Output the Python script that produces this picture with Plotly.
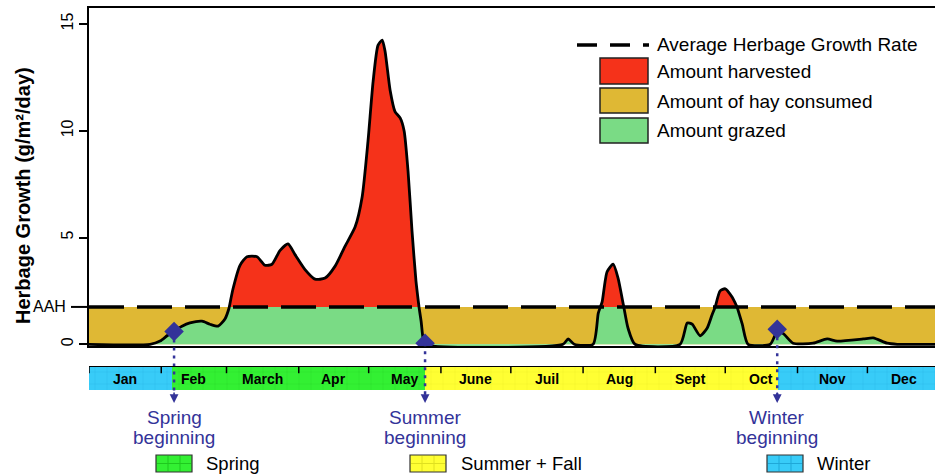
import plotly.graph_objects as go
import numpy as np

# ---------------- data ----------------
AAH = 1.75
days = [0, 26.2, 30.5, 33.5, 36.1, 39.9, 43.3, 48.5, 51.9, 55.4, 58.4, 60.1, 61.8, 64.8, 67.8,
        72.1, 75.5, 78.5, 82.0, 85.4, 88.4, 92.7, 97.0, 101.3, 105.6, 109.9, 114.2, 117.2,
        119.7, 121.9, 124.0, 125.8, 127.0, 129.2, 131.3, 133.5, 135.2, 136.9, 138.6, 140.3,
        141.6, 142.5, 143.3, 144.2, 203.4, 205.6, 208.2, 216.3, 218.5, 220.2, 222.3, 224.9,
        227.0, 229.2, 231.3, 234.3, 253.6, 256.7, 258.8, 262.2, 265.2, 267.4, 268.7, 270.8,
        273.0, 276.0, 278.1, 280.3, 282.8, 292.3, 295.3, 297.9, 302.1, 310.7, 316.7, 321.0,
        332.2, 336.5, 342.5, 346.8, 363]
growth = [0, 0, 0.15, 0.4, 0.6, 0.85, 1.0, 1.08, 0.94, 0.85, 1.2, 1.7, 2.6, 3.7, 4.1,
          4.1, 3.7, 3.75, 4.4, 4.7, 4.2, 3.5, 3.05, 3.1, 3.66, 4.6, 5.5, 6.9,
          9.5, 12.3, 14.0, 14.25, 13.75, 11.9, 10.9, 10.6, 10.0, 8.1, 5.3, 2.96,
          1.74, 1.08, 0.3, 0, 0, 0.25, 0, 0, 1.45, 2.0, 3.4, 3.75,
          3.1, 1.9, 0.75, 0, 0, 1.0, 0.94, 0.4, 0.75, 1.4, 1.74, 2.5,
          2.6, 2.2, 1.74, 0.94, 0, 0, 0.6, 0.5, 0.05, 0.05, 0.25, 0.15,
          0.25, 0.3, 0.05, 0, 0]
months = ["Jan", "Feb", "March", "Apr", "May", "June", "Juil", "Aug", "Sept", "Oct", "Nov", "Dec"]
month_starts = [0, 31, 59, 90, 120, 151, 181, 212, 243, 273, 304, 334]
year_end = 363
season_bounds = [0, 35.6, 144.2, 295.5, 363]
season_names = ["Winter", "Spring", "Summer + Fall", "Winter"]
milestone_days = [36.5, 144.2, 295.3]
milestone_vals = [0.6, 0.05, 0.7]
milestone_labels = [("Spring", "beginning"), ("Summer", "beginning"), ("Winter", "beginning")]
legend_labels = ["Average Herbage Growth Rate", "Amount harvested", "Amount of hay consumed", "Amount grazed"]
y_ticks = [0, 5, 10, 15]

# ---------------- styles ----------------
RED = "#F5321A"
GOLD = "#DFB834"
GREEN = "#7ADB85"
NAVY = "#333399"
SEASON_COL = {"Winter": ("#38CCF8", "#1FA8D8"), "Spring": ("#33F033", "#1FC81F"),
              "Summer + Fall": ("#FFFF33", "#E0E020")}
FONT = "Liberation Sans, Arial, sans-serif"
SHAPE = dict(shape="spline", smoothing=0.6)

W, H = 935, 475
L, R, T, B = 89, 0, 8, 85
PW, PH = W - L - R, H - T - B


def X(px):
    return (px - L) / PW


def Y(py):
    return (H - B - py) / PH


main_dom = [Y(346), 1.0]
band_dom = [0.0, Y(366)]
yr = [-0.08, 15.75]


def yv2paper(v):
    return main_dom[0] + (v - yr[0]) / (yr[1] - yr[0]) * (main_dom[1] - main_dom[0])


# insert AAH crossings
xs, ys = [days[0]], [growth[0]]
for i in range(1, len(days)):
    x0, y0, x1, y1 = days[i - 1], growth[i - 1], days[i], growth[i]
    if (y0 - AAH) * (y1 - AAH) < 0:
        t = (AAH - y0) / (y1 - y0)
        xs.append(x0 + t * (x1 - x0))
        ys.append(AAH)
    xs.append(x1)
    ys.append(y1)
ys = np.array(ys)
low = np.minimum(ys, AAH)
high = np.maximum(ys, AAH)

fig = go.Figure()
fig.add_trace(go.Scatter(x=[0, year_end], y=[AAH, AAH], mode="lines", line=dict(width=0),
                         fill="tozeroy", fillcolor=GOLD, hoverinfo="skip"))
fig.add_trace(go.Scatter(x=xs, y=low, mode="lines", line=dict(width=0, **SHAPE),
                         fill="tozeroy", fillcolor=GREEN, hoverinfo="skip"))
fig.add_trace(go.Scatter(x=xs, y=[AAH] * len(xs), mode="lines", line=dict(width=0), hoverinfo="skip"))
fig.add_trace(go.Scatter(x=xs, y=high, mode="lines", line=dict(width=0, **SHAPE),
                         fill="tonexty", fillcolor=RED, hoverinfo="skip"))
fig.add_trace(go.Scatter(x=xs, y=ys, mode="lines", line=dict(color="black", width=2.8, **SHAPE)))
fig.add_trace(go.Scatter(x=[0, year_end], y=[AAH, AAH], mode="lines",
                         line=dict(color="black", width=3.5, dash="35px,13px")))

# season band
for i, name in enumerate(season_names):
    a, b = season_bounds[i], season_bounds[i + 1]
    bg, fg = SEASON_COL[name]
    fig.add_trace(go.Bar(x=[(a + b) / 2], y=[1], base=0, width=[b - a], xaxis="x", yaxis="y2",
                         marker=dict(color=bg, line=dict(width=0),
                                     pattern=dict(shape="+", fgcolor=fg, size=12, solidity=0.08,
                                                  fillmode="overlay")),
                         hoverinfo="skip"))

shapes = []
annotations = []

# dotted season lines + arrows + labels
for d, v, (l1, l2) in zip(milestone_days, milestone_vals, milestone_labels):
    shapes.append(dict(type="line", xref="x", yref="paper", x0=d, x1=d, y0=yv2paper(v), y1=Y(396),
                       line=dict(color=NAVY, width=2.5, dash="3px,5px")))
    annotations.append(dict(x=d, y=Y(403), xref="x", yref="paper", text="", showarrow=True,
                            ax=0, ay=-12, arrowhead=2, arrowsize=1.1, arrowwidth=1.6, arrowcolor=NAVY))
    for txt, yy in ((l1, 417), (l2, 438)):
        annotations.append(dict(x=d, y=Y(yy), xref="x", yref="paper", text=txt, showarrow=False,
                                font=dict(family=FONT, size=19, color=NAVY), yanchor="middle",
                                xanchor="center"))

fig.add_trace(go.Scatter(x=milestone_days, y=milestone_vals, mode="markers",
                         marker=dict(symbol="diamond", size=15, color=NAVY)))

# band top line, month ticks and labels
shapes.append(dict(type="line", xref="x", yref="y2", x0=0, x1=year_end, y0=1, y1=1,
                   line=dict(color="black", width=2)))
for i, (m, s) in enumerate(zip(months, month_starts)):
    shapes.append(dict(type="line", xref="x", yref="y2", x0=s, x1=s, y0=1, y1=0.7,
                       line=dict(color="black", width=1.5)))
    e = month_starts[i + 1] if i + 1 < len(month_starts) else 365
    annotations.append(dict(x=(s + e) / 2, y=0.45, xref="x", yref="y2", text="<b>%s</b>" % m,
                            showarrow=False, font=dict(family=FONT, size=14, color="black")))

# AAH tick + label
shapes.append(dict(type="line", xref="paper", yref="y", x0=X(71), x1=0, y0=AAH, y1=AAH,
                   line=dict(color="black", width=2)))
annotations.append(dict(x=X(68), y=AAH, xref="paper", yref="y", text="AAH", showarrow=False,
                        xanchor="right", yanchor="middle", font=dict(family=FONT, size=16, color="black")))

# y axis title
annotations.append(dict(x=X(23), y=Y(196), xref="paper", yref="paper",
                        text="<b>Herbage Growth (g/m²/day)</b>", textangle=-90, showarrow=False,
                        xanchor="center", yanchor="middle",
                        font=dict(family=FONT, size=20, color="black")))

# main legend
shapes.append(dict(type="line", xref="paper", yref="paper", x0=X(577), x1=X(649), y0=Y(45), y1=Y(45),
                   line=dict(color="black", width=3.5, dash="20px,13px")))
annotations.append(dict(x=X(655), y=Y(45), xref="paper", yref="paper", text=legend_labels[0],
                        showarrow=False, xanchor="left", yanchor="middle",
                        font=dict(family=FONT, size=19, color="black")))
for (ya, yb, yc), col, lab in zip([(58, 84, 72), (88, 113, 101), (118, 143, 130)],
                                  [RED, GOLD, GREEN], legend_labels[1:]):
    shapes.append(dict(type="rect", xref="paper", yref="paper", x0=X(600), x1=X(648),
                       y0=Y(yb), y1=Y(ya), fillcolor=col, line=dict(color="#222222", width=1.5)))
    annotations.append(dict(x=X(655), y=Y(yc), xref="paper", yref="paper", text=lab,
                            showarrow=False, xanchor="left", yanchor="middle",
                            font=dict(family=FONT, size=19, color="black")))

# bottom season legend
for (bx, tx), name in zip([(156, 204), (410, 459), (767, 815)], ["Spring", "Summer + Fall", "Winter"]):
    bg, fg = SEASON_COL[name]
    shapes.append(dict(type="rect", xref="paper", yref="paper", x0=X(bx), x1=X(bx + 36),
                       y0=Y(472), y1=Y(455), fillcolor=bg, line=dict(color="#333333", width=1.2)))
    for k in (1, 2):
        xx = X(bx + 12 * k)
        shapes.append(dict(type="line", xref="paper", yref="paper", x0=xx, x1=xx, y0=Y(471), y1=Y(456),
                           line=dict(color=fg, width=1)))
    shapes.append(dict(type="line", xref="paper", yref="paper", x0=X(bx + 1), x1=X(bx + 35),
                       y0=Y(463.5), y1=Y(463.5), line=dict(color=fg, width=1)))
    annotations.append(dict(x=X(tx), y=Y(463), xref="paper", yref="paper", text=name,
                            showarrow=False, xanchor="left", yanchor="middle",
                            font=dict(family=FONT, size=18.5, color="black")))

fig.update_layout(
    width=W, height=H, margin=dict(l=L, r=R, t=T, b=B, autoexpand=False),
    plot_bgcolor="white", paper_bgcolor="white", showlegend=False,
    font=dict(family=FONT, color="black"),
    xaxis=dict(range=[0, year_end], showgrid=False, zeroline=False, showticklabels=False,
               ticks="", showline=True, mirror=True, linecolor="black", linewidth=1.5,
               anchor="y"),
    yaxis=dict(domain=main_dom, range=yr, showgrid=False, zeroline=False, tickvals=y_ticks,
               ticks="outside", ticklen=8, tickwidth=1.5, tickcolor="black", tickangle=-90,
               tickfont=dict(family=FONT, size=16, color="black"),
               showline=True, mirror=True, linecolor="black", linewidth=1.5),
    yaxis2=dict(domain=band_dom, range=[0, 1], anchor="x", showgrid=False, zeroline=False,
                showticklabels=False, ticks=""),
    shapes=shapes, annotations=annotations, bargap=0,
)

fig.write_html("out.html", config={"displayModeBar": False},
               post_script="document.body.style.margin='0';document.body.style.overflow='hidden';")
